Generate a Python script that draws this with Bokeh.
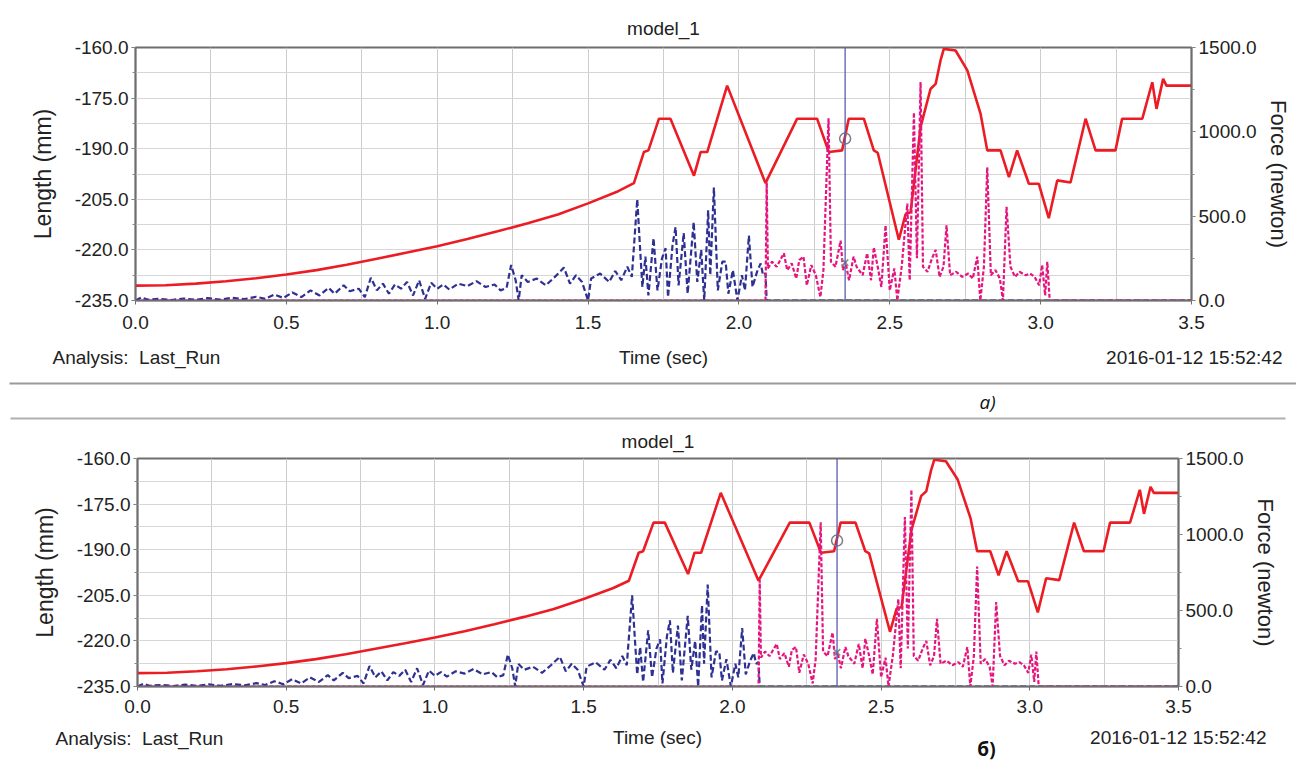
from bokeh.plotting import figure
from bokeh.models import Range1d, LinearAxis, FixedTicker, PrintfTickFormatter, Span
from bokeh.core.properties import value
from bokeh.embed import file_html
from bokeh.resources import INLINE

# ---------------- data ----------------
TITLE = "model_1"
X_LABEL = "Time (sec)"
Y_LEFT_LABEL = "Length (mm)"
Y_RIGHT_LABEL = "Force (newton)"
ANALYSIS = "Analysis:\u00a0\u00a0Last_Run"
STAMP = "2016-01-12 15:52:42"
PANEL_TAGS = ["a)", "б)"]

x_ticks = [0.0, 0.5, 1.0, 1.5, 2.0, 2.5, 3.0, 3.5]
length_ticks = [-235.0, -220.0, -205.0, -190.0, -175.0, -160.0]
force_ticks = [0.0, 500.0, 1000.0, 1500.0]

# red: length (mm) vs time (sec)
red_t = [0.00, 0.10, 0.20, 0.30, 0.40, 0.50, 0.60, 0.70, 0.80, 0.90, 1.00,
         1.10, 1.20, 1.30, 1.40, 1.50, 1.60, 1.652, 1.685, 1.700, 1.735,
         1.773, 1.851, 1.873, 1.895, 1.961, 2.088, 2.193, 2.259, 2.298,
         2.342, 2.364, 2.414, 2.447, 2.460, 2.530, 2.552, 2.569, 2.602,
         2.635, 2.652, 2.668, 2.679, 2.718, 2.757, 2.801, 2.823, 2.867,
         2.895, 2.922, 2.961, 2.994, 3.027, 3.055, 3.099, 3.149, 3.182,
         3.248, 3.270, 3.337, 3.370, 3.384, 3.406, 3.417, 3.500]
red_len = [-230.6, -230.5, -230.0, -229.3, -228.4, -227.3, -226.0, -224.4,
           -222.6, -220.8, -218.9, -216.8, -214.5, -212.1, -209.5, -206.2,
           -202.6, -200.2, -191.0, -190.5, -181.1, -181.1, -198.0, -191.0,
           -191.0, -171.3, -200.2, -181.1, -181.1, -191.0, -190.5, -181.1,
           -181.1, -190.5, -191.2, -217.0, -209.5, -208.8, -183.6, -172.3,
           -170.8, -163.9, -160.4, -160.9, -166.8, -179.7, -190.5, -190.5,
           -198.4, -190.5, -200.4, -200.4, -210.6, -199.4, -200.0, -181.1,
           -190.5, -190.5, -181.1, -181.1, -170.3, -178.2, -169.3, -171.3,
           -171.3]

# blue dashed: force (newton), first contact
blue_t = [0.00, 0.02, 0.04, 0.08, 0.12, 0.16, 0.20, 0.24, 0.28, 0.32, 0.36,
          0.40, 0.43, 0.46, 0.49, 0.52, 0.55, 0.58, 0.61, 0.64, 0.66, 0.69,
          0.71, 0.74, 0.76, 0.78, 0.80, 0.82, 0.84, 0.86, 0.88, 0.90, 0.92,
          0.94, 0.96, 0.98, 1.00, 1.02, 1.04, 1.07, 1.10, 1.13, 1.16, 1.19,
          1.21, 1.23, 1.245, 1.26, 1.27, 1.28, 1.30, 1.33, 1.36, 1.39, 1.42,
          1.44, 1.46, 1.48, 1.50, 1.51, 1.54, 1.57, 1.59, 1.61, 1.63, 1.645,
          1.663, 1.672, 1.680, 1.690, 1.700, 1.717, 1.730, 1.745, 1.757,
          1.765, 1.780, 1.790, 1.800, 1.817, 1.830, 1.850, 1.862, 1.875,
          1.885, 1.898, 1.905, 1.917, 1.930, 1.945, 1.956, 1.965, 1.980,
          1.995, 2.010, 2.020, 2.033, 2.045, 2.060, 2.072, 2.080, 2.088,
          2.092, 3.500]
blue_f = [0, 18, 5, 10, 3, 12, 4, 14, 5, 16, 8, 22, 10, 35, 15, 48, 20, 60,
          30, 75, 40, 90, 55, 70, 20, 135, 60, 100, 40, 95, 70, 110, 30, 120,
          10, 105, 70, 95, 65, 100, 85, 115, 80, 95, 60, 75, 210, 120, 0, 150,
          110, 130, 90, 140, 195, 100, 150, 110, 0, 130, 160, 110, 175, 120,
          200, 140, 600, 320, 80, 260, 30, 370, 60, 250, 310, 20, 330, 435,
          90, 400, 40, 465, 110, 300, 0, 535, 150, 670, 60, 230, 230, 40, 180,
          0, 150, 60, 385, 80, 170, 220, 150, 160, 0, 0]

# pink dashed: force (newton), second contact
pink_t = [0.00, 2.088, 2.092, 2.096, 2.110, 2.125, 2.140, 2.149, 2.160,
          2.175, 2.190, 2.200, 2.214, 2.225, 2.240, 2.255, 2.270, 2.280,
          2.297, 2.305, 2.320, 2.337, 2.345, 2.353, 2.365, 2.380, 2.390,
          2.410, 2.425, 2.438, 2.447, 2.460, 2.472, 2.486, 2.500, 2.515,
          2.525, 2.540, 2.558, 2.566, 2.580, 2.590, 2.602, 2.610, 2.625,
          2.640, 2.652, 2.665, 2.678, 2.688, 2.700, 2.720, 2.740, 2.760,
          2.775, 2.790, 2.800, 2.812, 2.823, 2.835, 2.850, 2.865, 2.875,
          2.887, 2.900, 2.915, 2.930, 2.950, 2.965, 2.980, 2.995, 3.005,
          3.015, 3.022, 3.030, 3.500]
pink_f = [0, 0, 700, 190, 230, 200, 250, 280, 180, 220, 130, 240, 260, 90,
          210, 150, 20, 180, 1080, 230, 200, 355, 180, 230, 120, 260, 200,
          150, 280, 120, 315, 200, 80, 445, 60, 190, 0, 210, 575, 120, 1115,
          250, 1295, 200, 170, 250, 300, 140, 200, 445, 150, 170, 140, 160,
          130, 260, 0, 200, 790, 150, 180, 130, 0, 555, 200, 140, 170, 150,
          160, 140, 90, 210, 30, 230, 0, 0]

cursor_t = [2.352]
cursor_len = [-187.0]
cursor_force = [225.0]

# ---------------- styling ----------------
FONT = "Liberation Sans"
TXT = "#222222"
RED = "#ec1c24"
BLUE = "#2e3192"
PINK = "#e5157f"
W = 1296


def chart(height, left, right, top, frame_h, title_standoff, xlab_standoff,
          rlab_standoff):
    p = figure(width=W, height=height, output_backend="svg",
               toolbar_location=None, x_range=Range1d(0, 3.5),
               y_range=Range1d(-235, -160),
               min_border_left=left, min_border_right=right,
               min_border_top=top, min_border_bottom=height - top - frame_h)
    p.background_fill_color = "white"
    p.border_fill_color = "white"
    p.outline_line_color = "#6e6e6e"
    p.outline_line_width = 2

    p.title.text = TITLE
    p.title.align = "center"
    p.title.text_font = FONT
    p.title.text_font_size = "19px"
    p.title.text_font_style = "normal"
    p.title.text_color = TXT
    p.title.standoff = title_standoff

    p.extra_y_ranges = {"force": Range1d(0, 1500)}
    raxis = LinearAxis(y_range_name="force")
    p.add_layout(raxis, "right")

    minor_x = [i * 0.25 for i in range(15)]
    minor_len = [-235 + 7.5 * i for i in range(11)]
    p.xaxis.ticker = FixedTicker(ticks=x_ticks, minor_ticks=minor_x)
    p.yaxis[0].ticker = FixedTicker(ticks=length_ticks, minor_ticks=minor_len)
    raxis.ticker = FixedTicker(ticks=force_ticks,
                               minor_ticks=[0, 250, 500, 750, 1000, 1250, 1500])
    for ax in [p.xaxis[0], p.yaxis[0], raxis]:
        ax.formatter = PrintfTickFormatter(format="%.1f")
        ax.major_label_text_font = FONT
        ax.major_label_text_font_size = "19px"
        ax.major_label_text_color = TXT
        ax.axis_label_text_font = FONT
        ax.axis_label_text_font_style = "normal"
        ax.axis_label_text_color = TXT
        ax.axis_line_color = "#6e6e6e"
        ax.axis_line_width = 1.5
        ax.major_tick_line_color = "#6e6e6e"
        ax.minor_tick_line_color = "#8a8a8a"
        ax.major_tick_out = 4
        ax.major_tick_in = 0
        ax.minor_tick_out = 3
        ax.minor_tick_in = 0
        ax.major_label_standoff = 3
    p.xaxis.major_label_standoff = xlab_standoff
    p.xaxis.minor_tick_out = 0
    p.yaxis[0].axis_label = Y_LEFT_LABEL
    p.yaxis[0].axis_label_text_font_size = "23px"
    p.yaxis[0].axis_label_standoff = 16
    raxis.axis_label = Y_RIGHT_LABEL
    raxis.axis_label_text_font_size = "22px"
    raxis.axis_label_standoff = rlab_standoff

    p.xgrid.ticker = FixedTicker(ticks=minor_x)
    p.ygrid.ticker = FixedTicker(ticks=minor_len)
    p.xgrid.grid_line_color = "#cdcdcd"
    p.ygrid.grid_line_color = "#d6d6d6"

    p.line(red_t, red_len, line_color=RED, line_width=2.6)
    p.line(blue_t, blue_f, y_range_name="force", line_color=BLUE,
           line_width=2.2, line_dash="6 3")
    p.line(pink_t, pink_f, y_range_name="force", line_color=PINK,
           line_width=2.2, line_dash="4 2")

    p.add_layout(Span(location=cursor_t[0], dimension="height",
                      line_color="#5b5bb0", line_width=1.3))
    p.scatter(cursor_t, cursor_len, marker="circle", size=11,
              fill_color=None, line_color="#7a7a8a", line_width=1.5)
    p.scatter(cursor_t, cursor_force, y_range_name="force", marker="x",
              size=9, line_color="#8a8a8a", line_width=1.5)
    return p


def strip(height, texts, hlines, tag, tag_xy, tag_style):
    """Footer strip: its frame spans the whole canvas, y measured downward."""
    s = figure(width=W, height=height, output_backend="svg",
               toolbar_location=None, x_range=Range1d(0, W),
               y_range=Range1d(height, 0), x_axis_type=None,
               y_axis_type=None, min_border=0, min_border_left=0,
               min_border_right=0, min_border_top=0, min_border_bottom=0)
    s.grid.visible = False
    s.outline_line_color = None
    s.background_fill_color = "white"
    s.border_fill_color = "white"
    for (x0, x1, y, col) in hlines:
        s.segment([x0], [y], [x1], [y], line_color=col, line_width=2)
    for (x, y, txt, align) in texts:
        s.text([x], [y], text=[txt], text_font=value(FONT),
               text_font_size=value("19px"), text_color=TXT,
               text_align=align, text_baseline="middle")
    s.text([tag_xy[0]], [tag_xy[1]], text=[tag], text_font=value("Open Sans"),
           text_font_size=value("19px"), text_font_style=tag_style,
           text_color="#111111", text_align="center", text_baseline="middle")
    return s


# page rows: p1 0-335, s1 335-420, p2 420-724, s2 724-760
p1 = chart(335, 135, 105, 47, 253, 17, 11, 6)
s1 = strip(85,
           [(52, 22, ANALYSIS, "left"), (663, 22, X_LABEL, "center"),
            (1282, 22, STAMP, "right")],
           [(9, W, 48, "#9a9a9a"), (10, 1285, 83, "#b0b0b0")],
           PANEL_TAGS[0], (987, 66), "italic")
p2 = chart(304, 137, 118, 38, 228, 14, 9, 6)
s2 = strip(36,
           [(55, 14, ANALYSIS, "left"), (657, 13, X_LABEL, "center"),
            (1266, 13, STAMP, "right")],
           [],
           PANEL_TAGS[1], (986, 24), "bold")

open("out.html", "w").write(file_html([p1, s1, p2, s2], INLINE))
